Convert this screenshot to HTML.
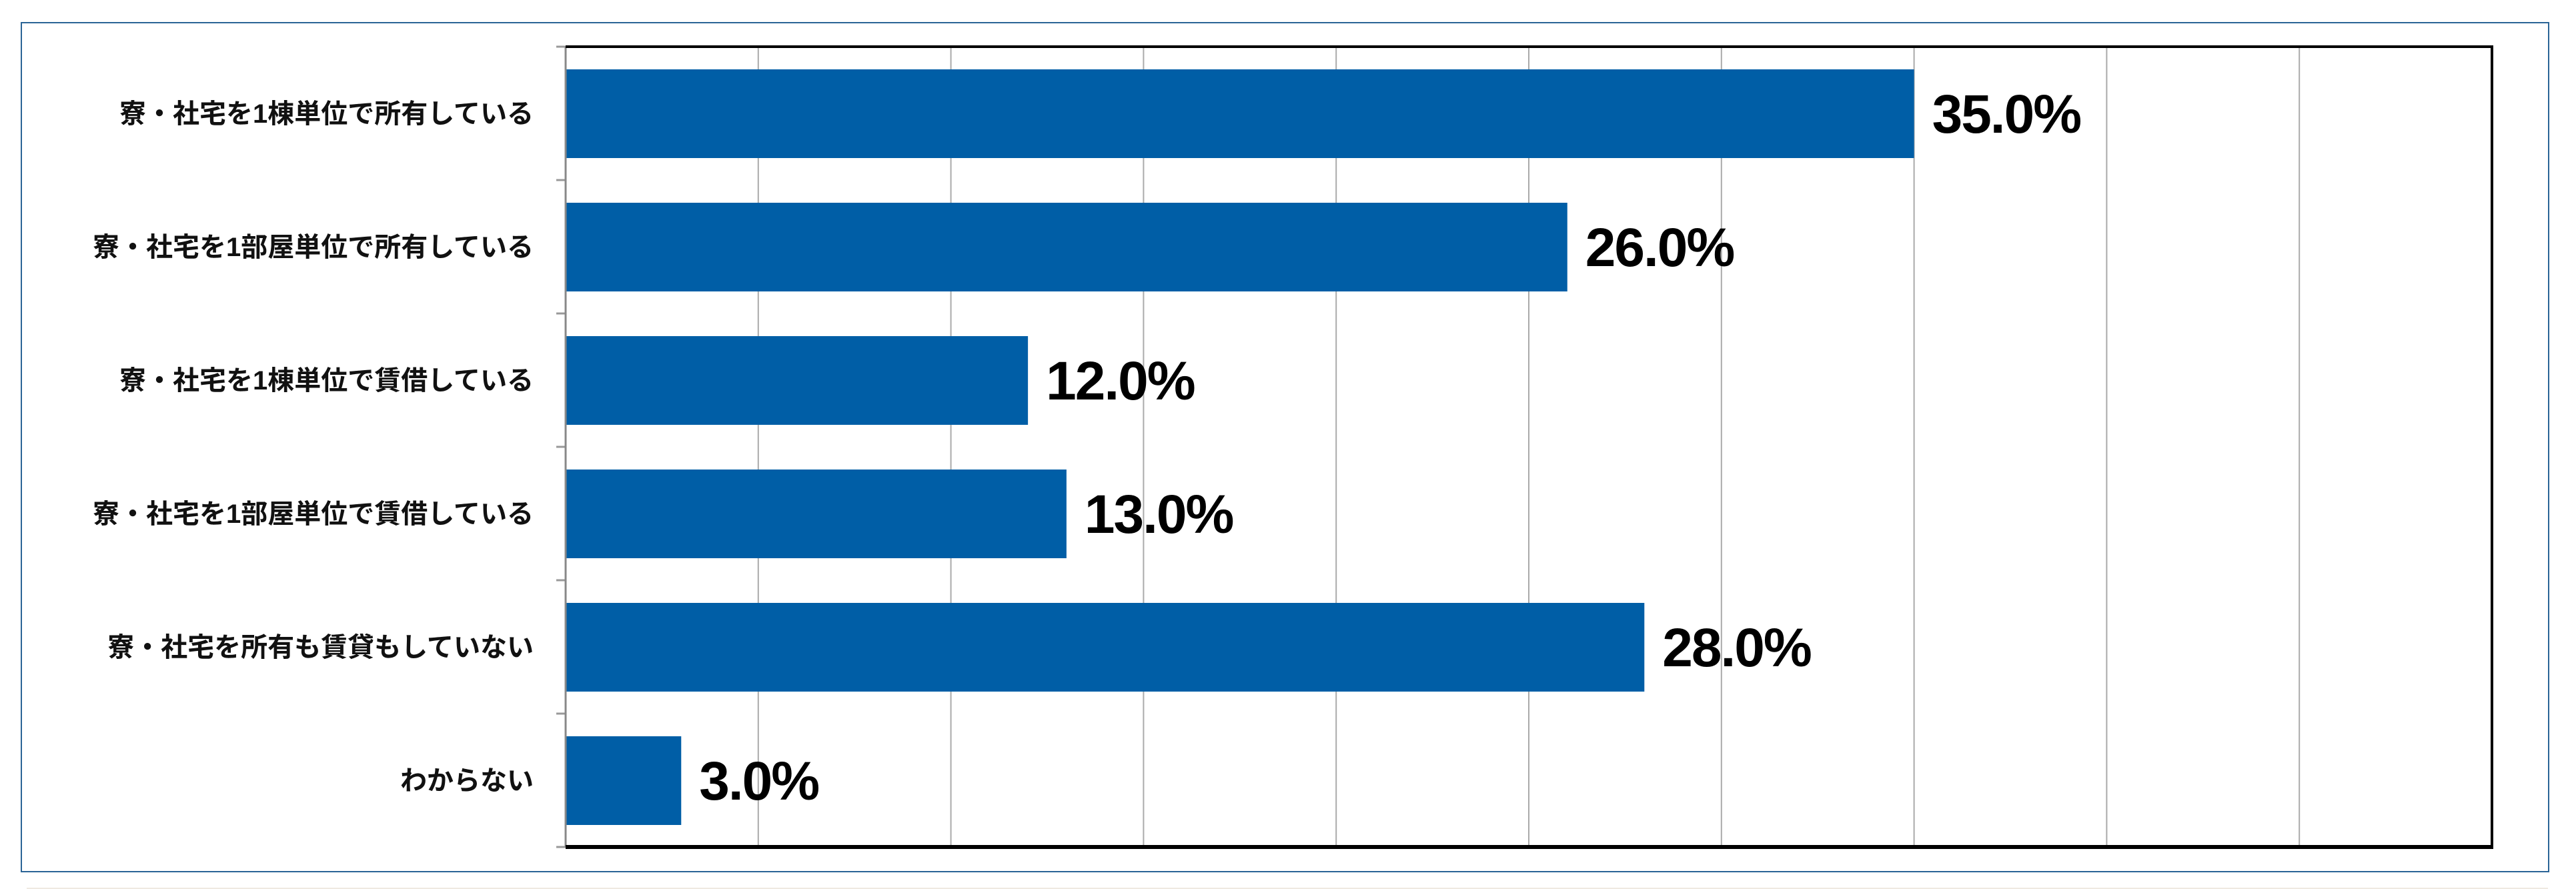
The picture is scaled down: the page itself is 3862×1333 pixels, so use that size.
<!DOCTYPE html>
<html><head><meta charset="utf-8"><style>
html,body{margin:0;padding:0;background:#fff;}
svg{display:block;}
</style></head><body>
<svg id="chart" width="3862" height="1333" viewBox="0 0 3862 1333" xmlns="http://www.w3.org/2000/svg">
<rect x="32" y="34" width="3789" height="1273" fill="#fff" stroke="#2a6496" stroke-width="2"/>
<line x1="40" y1="1332" x2="3820" y2="1332" stroke="#efe9e1" stroke-width="2"/>
<g id="grid"></g><g id="bars"></g><g id="labels"></g><g id="values"></g><g id="axes"></g>
</svg>
<script>
const categories = ["寮・社宅を1棟単位で所有している","寮・社宅を1部屋単位で所有している","寮・社宅を1棟単位で賃借している","寮・社宅を1部屋単位で賃借している","寮・社宅を所有も賃貸もしていない","わからない"];
const values = [35.0, 26.0, 12.0, 13.0, 28.0, 3.0];
const valueLabels = ["35.0%","26.0%","12.0%","13.0%","28.0%","3.0%"];
const xTicks = [0,5,10,15,20,25,30,35,40,45,50];

const NS="http://www.w3.org/2000/svg";
const L=848, R=3736, T=70, B=1270, xMax=50;
const x=v=>L+(R-L)*v/xMax;
const band=(B-T)/categories.length;
const y=i=>T+band*i;
function mk(tag,attrs,parent){const e=document.createElementNS(NS,tag);for(const k in attrs)e.setAttribute(k,attrs[k]);parent.appendChild(e);return e;}
const grid=document.getElementById('grid'),bars=document.getElementById('bars'),labels=document.getElementById('labels'),vals=document.getElementById('values'),axes=document.getElementById('axes');
xTicks.forEach(t=>{if(t===0||t===xMax)return;
 const g=mk('line',{x1:x(t),x2:x(t),y1:T,y2:B,stroke:'#aaaaaa','stroke-width':2},grid);
 
 
});
categories.forEach((c,i)=>{
 const bt=y(i)+34, bh=133;
 const r=mk('rect',{x:L,y:bt,width:x(values[i])-L,height:bh,fill:'#005ea6'},bars);
 
 
 const t=mk('text',{x:800,y:y(i)+band/2+14,'text-anchor':'end','font-size':40,'font-weight':'bold','font-family':'"Liberation Sans","Noto Sans CJK JP",sans-serif',fill:'#111'},labels);
 t.textContent=c;
 
 
 const v=mk('text',{x:x(values[i])+27,y:y(i)+band/2+29,'font-size':82,'font-weight':'bold','font-family':'"Liberation Sans Narrow","Liberation Sans",sans-serif',fill:'#000','letter-spacing':-2},vals);
 v.textContent=valueLabels[i];
 
 
});
for(let i=0;i<=categories.length;i++){
 const tk=mk('line',{x1:834,x2:848,y1:y(i),y2:y(i),stroke:'#999','stroke-width':3},axes);
 
 
}
const la=mk('line',{x1:848,x2:848,y1:T,y2:B,stroke:'#888','stroke-width':3},axes);


const ta=mk('line',{x1:L,x2:R+2,y1:T,y2:T,stroke:'#000','stroke-width':4},axes);


const ra=mk('line',{x1:R,x2:R,y1:T,y2:B+3,stroke:'#000','stroke-width':4},axes);


const ba=mk('line',{x1:L,x2:R+2,y1:B,y2:B,stroke:'#000','stroke-width':6},axes);


</script>
</body></html>
